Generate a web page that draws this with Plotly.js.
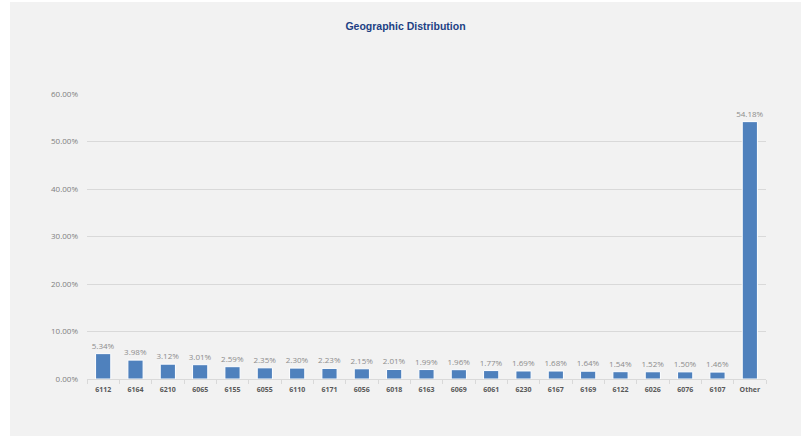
<!DOCTYPE html>
<html>
<head>
<meta charset="utf-8">
<script src="https://cdn.plot.ly/plotly-3.0.1.min.js"></script>
<style>
html,body{margin:0;padding:0;background:#ffffff;}
#chart{position:absolute;left:10px;top:2px;width:791px;height:434px;}
</style>
</head>
<body>
<div id="chart"></div>
<script>
const categories = ["6112","6164","6210","6065","6155","6055","6110","6171","6056","6018","6163","6069","6061","6230","6167","6169","6122","6026","6076","6107","Other"];
const shares = [5.34,3.98,3.12,3.01,2.59,2.35,2.30,2.23,2.15,2.01,1.99,1.96,1.77,1.69,1.68,1.64,1.54,1.52,1.50,1.46,54.18];
const yTickVals = [0,10,20,30,40,50,60];
const yTickText = ["0.00%","10.00%","20.00%","30.00%","40.00%","50.00%","60.00%"];

const trace = {
  type: "bar",
  x: categories,
  y: shares,
  text: shares.map(v => v.toFixed(2) + "%"),
  textposition: "outside",
  constraintext: "none",
  cliponaxis: false,
  textfont: {family: "Open Sans, Liberation Sans, sans-serif", size: 8, color: "#8c8c8c"},
  marker: {color: "#4f81bd", line: {color: "#ffffff", width: 1}},
  hoverinfo: "none"
};

const layout = {
  width: 791, height: 434,
  paper_bgcolor: "#f2f2f2",
  plot_bgcolor: "#f2f2f2",
  margin: {l: 77, r: 35, t: 92, b: 57},
  bargap: 0.53,
  showlegend: false,
  title: {
    text: "<b>Geographic Distribution</b>",
    font: {family: "Liberation Sans, Arial, sans-serif", size: 10.5, color: "#213f84"},
    x: 0.5, xanchor: "center", y: 0.945, yanchor: "middle"
  },
  xaxis: {
    type: "category",
    tickfont: {family: "Open Sans, Liberation Sans, sans-serif", size: 7, color: "#595959", weight: "bold"},
    showline: true, linecolor: "#d9d9d9", linewidth: 1,
    ticks: "outside", tickson: "boundaries", ticklen: 4, tickcolor: "#d9d9d9",
    ticklabelstandoff: 4,
    showgrid: false, zeroline: false,
    fixedrange: true
  },
  yaxis: {
    range: [0, 60],
    tickvals: yTickVals, ticktext: yTickText,
    tickfont: {family: "Open Sans, Liberation Sans, sans-serif", size: 8, color: "#7f7f7f"},
    showgrid: true, gridcolor: "#d9d9d9", gridwidth: 1,
    zeroline: false, showline: false, ticks: "",
    ticklabelstandoff: 8,
    fixedrange: true
  }
};

Plotly.newPlot("chart", [trace], layout, {displayModeBar: false, staticPlot: true});
</script>
</body>
</html>
